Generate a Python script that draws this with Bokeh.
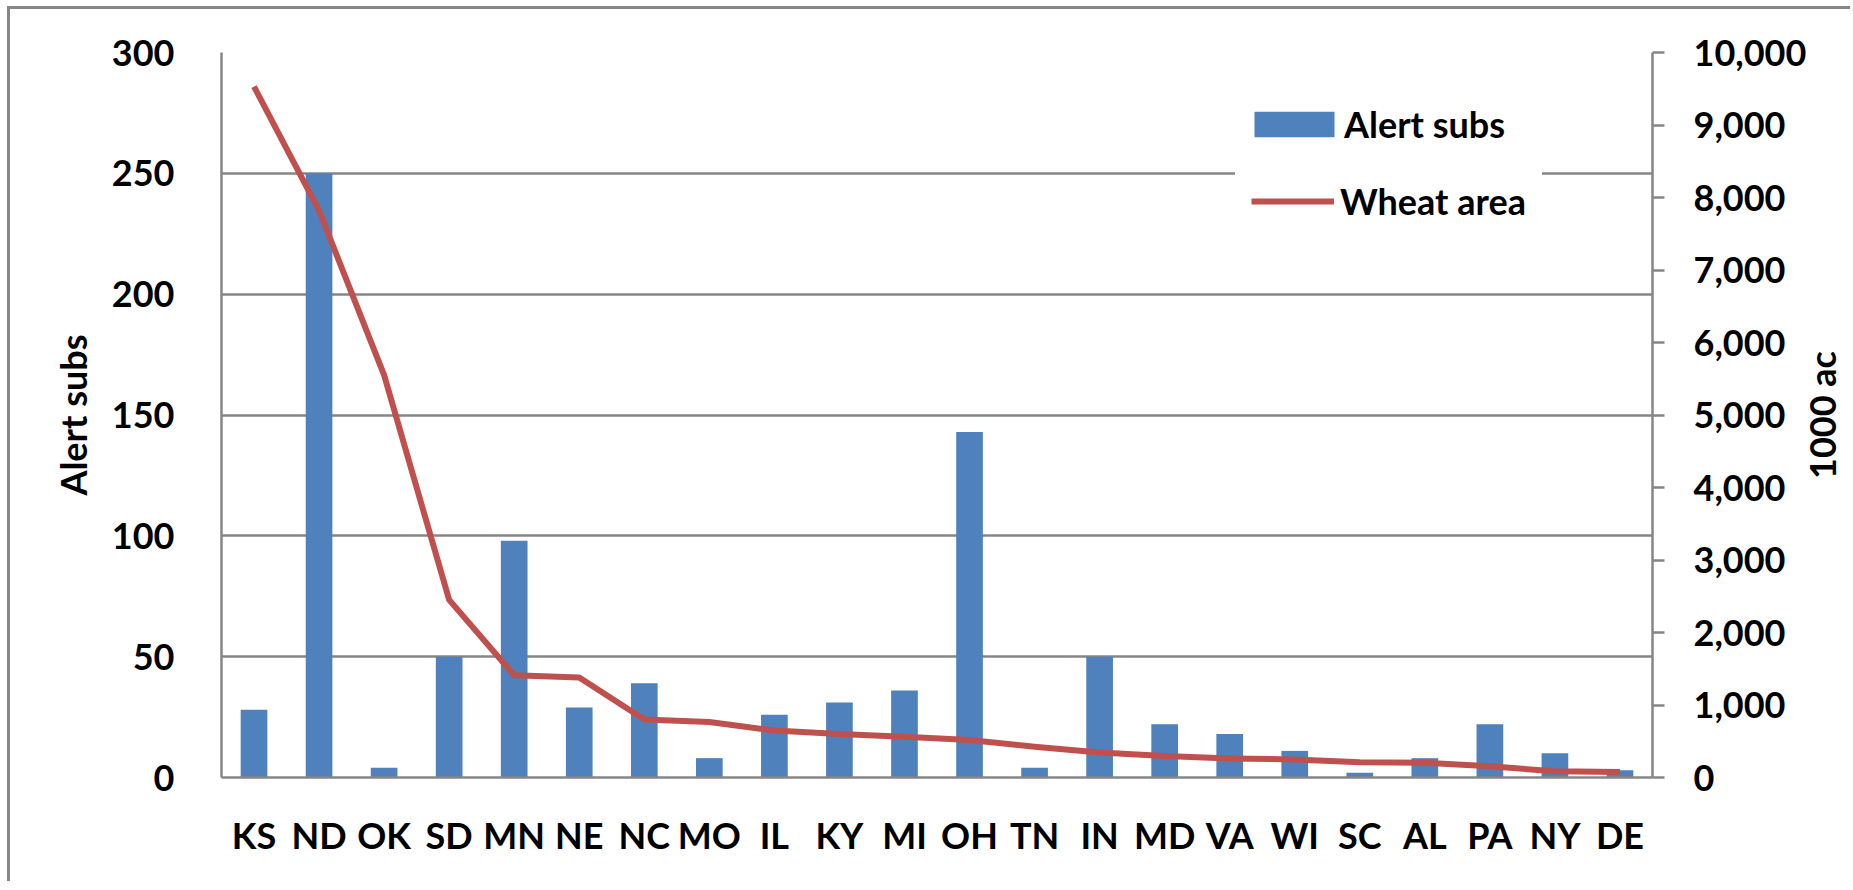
import math
from bokeh.plotting import figure
from bokeh.models import (LinearAxis, Range1d, FactorRange, SingleIntervalTicker,
                          NumeralTickFormatter, Legend, LegendItem, ColumnDataSource, Label)
from bokeh.embed import file_html
from bokeh.resources import INLINE

states = ["KS", "ND", "OK", "SD", "MN", "NE", "NC", "MO", "IL", "KY", "MI",
          "OH", "TN", "IN", "MD", "VA", "WI", "SC", "AL", "PA", "NY", "DE"]
alert_subs = [28, 250, 4, 50, 98, 29, 39, 8, 26, 31, 36,
              143, 4, 50, 22, 18, 11, 2, 8, 22, 10, 3]
wheat_area = [9530, 7820, 5550, 2450, 1410, 1380, 800, 765, 648, 600, 563,
              516, 425, 345, 296, 263, 249, 211, 202, 155, 85, 75]

FONT = "Lato"
FS = "36px"
GRAY = "#868686"
BLUE = "#4F81BD"
RED = "#C0504D"

src = ColumnDataSource(dict(state=states, alert=alert_subs, wheat=wheat_area))

p = figure(x_range=FactorRange(*states), y_range=Range1d(0, 300),
           width=1843, height=875, output_backend="svg", toolbar_location=None,
           min_border_left=211, min_border_right=198, min_border_top=43,
           min_border_bottom=107)
p.extra_y_ranges = {"wheat": Range1d(0, 10000)}
p.outline_line_color = None
p.background_fill_color = "white"
p.border_fill_color = "white"
p.styles = {"border-left": "3px solid #868686", "border-top": "3px solid #868686",
            "margin-left": "7px", "margin-top": "6px"}

bars = p.vbar(x="state", top="alert", width=0.41, source=src,
              fill_color=BLUE, line_color=None)
line = p.line(x="state", y="wheat", y_range_name="wheat", source=src,
              line_color=RED, line_width=6, line_join="round")

def style_axis(ax):
    ax.axis_line_color = GRAY
    ax.axis_line_width = 2.5
    ax.major_tick_line_color = GRAY
    ax.major_tick_line_width = 2.5
    ax.minor_tick_line_color = None
    ax.major_label_text_font = FONT
    ax.major_label_text_font_style = "bold"
    ax.major_label_text_font_size = FS
    ax.major_label_text_color = "black"
    ax.axis_label_text_font = FONT
    ax.axis_label_text_font_style = "bold"
    ax.axis_label_text_font_size = FS
    ax.axis_label_text_color = "black"

# left axis
la = p.left[0]
style_axis(la)
la.ticker = SingleIntervalTicker(interval=50)
la.major_tick_out = 0
la.major_tick_in = 0
la.major_label_standoff = 43
la.axis_label = "Alert subs"
la.axis_label_standoff = 14

# bottom axis
ba = p.below[0]
style_axis(ba)
ba.major_tick_out = 0
ba.major_tick_in = 0
ba.major_label_standoff = 35

# right axis
ra = LinearAxis(y_range_name="wheat", ticker=SingleIntervalTicker(interval=1000),
                formatter=NumeralTickFormatter(format="0,0"))
style_axis(ra)
ra.major_tick_out = 12
ra.major_tick_in = 0
ra.major_label_standoff = 29
p.add_layout(ra, "right")

# right axis title, reading bottom-to-top, placed in the right side panel
rlabel = Label(x=1808, x_units="canvas", y=150, y_units="data",
               text="1000 ac", angle=math.pi / 2,
               text_align="center", text_baseline="middle",
               text_font=FONT, text_font_style="bold", text_font_size=FS,
               text_line_height=0.5, text_color="black")
p.add_layout(rlabel, "right")

p.xgrid.visible = False
p.ygrid.ticker = SingleIntervalTicker(interval=50)
p.ygrid.grid_line_color = GRAY
p.ygrid.grid_line_width = 2.5

def make_legend(item, loc, gw, gh, pad, standoff):
    lg = Legend(items=[item], location=loc)
    lg.label_text_font = FONT
    lg.label_text_font_style = "bold"
    lg.label_text_font_size = FS
    lg.label_text_color = "black"
    lg.glyph_width = gw
    lg.glyph_height = gh
    lg.label_standoff = standoff
    lg.padding = pad
    lg.margin = 0
    lg.border_line_alpha = 0
    lg.background_fill_color = "white"
    lg.background_fill_alpha = 1
    return lg

leg1 = make_legend(LegendItem(label="Alert subs", renderers=[bars]),
                   (1003, 611), 100, 32, 20, 0)
leg2 = make_legend(LegendItem(label="Wheat area", renderers=[line]),
                   (1014, 538), 83, 26, 16, 6)
p.add_layout(leg1)
p.add_layout(leg2)

open("out.html", "w").write(file_html(p, INLINE))
